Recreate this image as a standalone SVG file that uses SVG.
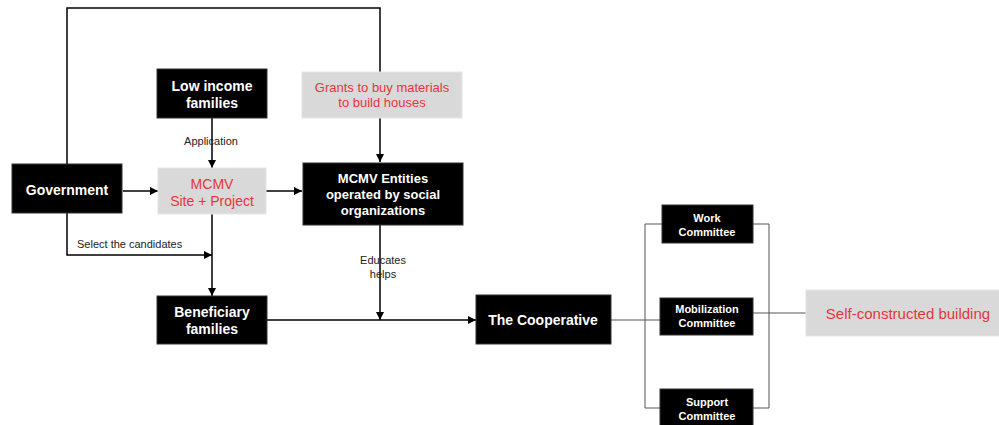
<svg xmlns="http://www.w3.org/2000/svg" width="999" height="425" viewBox="0 0 999 425">
<defs>
<marker id="arr" viewBox="0 0 10 10" refX="10" refY="5" markerWidth="8" markerHeight="8" markerUnits="userSpaceOnUse" orient="auto">
<path d="M0,0 L10,5 L0,10 z" fill="#000"/>
</marker>
<style>
.blk{fill:#000;stroke:#333;stroke-width:1}
.gry{fill:#d9d9d9;stroke:#e6e6e6;stroke-width:1}
.wt{fill:#fff;font-family:"Liberation Sans",Arial,sans-serif;font-weight:bold;font-size:14px;text-anchor:middle}
.sm{fill:#fff;font-family:"Liberation Sans",Arial,sans-serif;font-weight:bold;font-size:11px;text-anchor:middle}
.rd{fill:#e8353a;font-family:"Liberation Sans",Arial,sans-serif;font-size:13px;text-anchor:middle}
.lbl{fill:#222;font-family:"Liberation Sans",Arial,sans-serif;font-size:11px}
.c{fill:none;stroke:#000;stroke-width:1.5}
.t{fill:none;stroke:#555;stroke-width:1}
</style>
</defs>
<rect width="999" height="425" fill="#fff"/>
<g id="connectors">
<path class="c" d="M67,164 V8 H380 V72"/>
<path class="c" d="M380,118 V162" marker-end="url(#arr)"/>
<path class="c" d="M212,118 V168" marker-end="url(#arr)"/>
<path class="c" d="M123,191 H158" marker-end="url(#arr)"/>
<path class="c" d="M266,191 H302" marker-end="url(#arr)"/>
<path class="c" d="M67,213 V255 H212" marker-end="url(#arr)"/>
<path class="c" d="M212,214 V296" marker-end="url(#arr)"/>
<path class="c" d="M380,225 V320" marker-end="url(#arr)"/>
<path class="c" d="M267,320 H476" marker-end="url(#arr)"/>
<path class="t" d="M611,320 H660"/>
<path class="t" d="M662,224 H645 V408 H660"/>
<path class="t" d="M753,224 H769 V408 H753"/>
<path class="t" d="M753,313 H806"/>
<text class="lbl" x="211" y="145" text-anchor="middle">Application</text>
<text class="lbl" x="77" y="248">Select the candidates</text>
<text class="lbl" x="383" y="264" text-anchor="middle">Educates</text>
<text class="lbl" x="383" y="278" text-anchor="middle">helps</text>
</g>
<g id="government"><rect class="blk" x="12" y="164" width="110" height="49"/><text class="wt" x="67" y="195">Government</text></g>
<g id="low-income"><rect class="blk" x="157" y="69" width="110" height="49"/><text class="wt" x="212" y="91">Low income</text><text class="wt" x="212" y="108">families</text></g>
<g id="grants"><rect class="gry" x="302" y="72" width="160" height="46"/><text class="rd" x="382" y="92">Grants to buy materials</text><text class="rd" x="382" y="107">to build houses</text></g>
<g id="mcmv-site"><rect class="gry" x="158" y="168" width="108" height="46"/><text class="rd" x="212" y="189" style="font-size:14px">MCMV</text><text class="rd" x="212" y="206" style="font-size:14px">Site + Project</text></g>
<g id="mcmv-entities"><rect class="blk" x="303" y="163" width="160" height="62"/><text class="wt" x="383" y="183" style="font-size:13px">MCMV Entities</text><text class="wt" x="383" y="199" style="font-size:13px">operated by social</text><text class="wt" x="383" y="215" style="font-size:13px">organizations</text></g>
<g id="beneficiary"><rect class="blk" x="157" y="296" width="110" height="48"/><text class="wt" x="212" y="317">Beneficiary</text><text class="wt" x="212" y="334">families</text></g>
<g id="cooperative"><rect class="blk" x="476" y="295" width="135" height="49"/><text class="wt" x="543" y="325">The Cooperative</text></g>
<g id="work"><rect class="blk" x="662" y="205" width="91" height="38"/><text class="sm" x="707" y="222">Work</text><text class="sm" x="707" y="236">Committee</text></g>
<g id="mobilization"><rect class="blk" x="660" y="298" width="93" height="37"/><text class="sm" x="707" y="313">Mobilization</text><text class="sm" x="707" y="327">Committee</text></g>
<g id="support"><rect class="blk" x="660" y="389" width="93" height="40"/><text class="sm" x="707" y="406">Support</text><text class="sm" x="707" y="420">Committee</text></g>
<g id="self-constructed"><rect class="gry" x="806" y="290" width="194" height="46"/><text class="rd" x="908" y="319" style="font-size:15px">Self-constructed building</text></g>
</svg>
